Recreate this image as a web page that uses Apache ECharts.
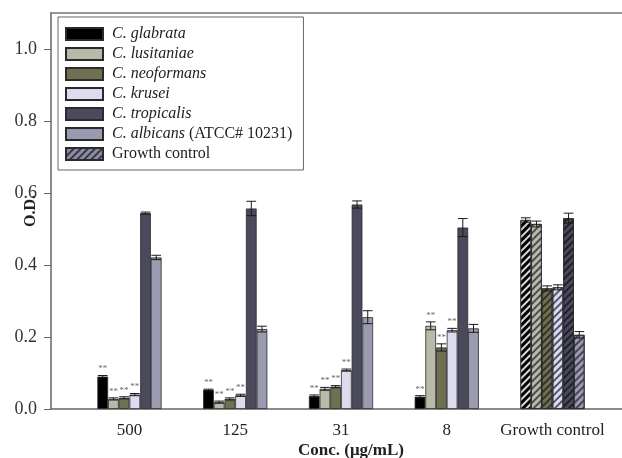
<!DOCTYPE html>
<html>
<head>
<meta charset="utf-8">
<script src="https://cdn.jsdelivr.net/npm/echarts@6/dist/echarts.min.js"></script>
<style>
  html, body { margin: 0; padding: 0; background: #fff; }
  #chart { width: 622px; height: 458px; }
</style>
</head>
<body>
<div id="chart"></div>
<script>
// Concentration groups along the x axis
const categories = ['500', '125', '31', '8', 'Growth control'];

// Strains (series)
const speciesNames = ['C. glabrata', 'C. lusitaniae', 'C. neoformans', 'C. krusei', 'C. tropicalis', 'C. albicans'];
const speciesSuffix = ['', '', '', '', '', ' (ATCC# 10231)'];

// Mean O.D. per strain, one value per concentration group
const glabrata   = [0.090, 0.053, 0.036, 0.034, 0.525];
const lusitaniae = [0.028, 0.019, 0.056, 0.231, 0.514];
const neoformans = [0.031, 0.028, 0.062, 0.171, 0.335];
const krusei     = [0.040, 0.038, 0.108, 0.219, 0.338];
const tropicalis = [0.544, 0.557, 0.568, 0.504, 0.530];
const albicans   = [0.421, 0.222, 0.255, 0.224, 0.206];

// Standard deviations
const glabrataErr   = [0.003, 0.002, 0.003, 0.003, 0.006];
const lusitaniaeErr = [0.003, 0.003, 0.004, 0.011, 0.008];
const neoformansErr = [0.003, 0.003, 0.003, 0.010, 0.007];
const kruseiErr     = [0.003, 0.003, 0.003, 0.005, 0.007];
const tropicalisErr = [0.003, 0.020, 0.010, 0.025, 0.014];
const albicansErr   = [0.006, 0.008, 0.018, 0.011, 0.009];

// Significance markers (1 = "**")
const glabrataSig   = [1, 1, 1, 1, 0];
const lusitaniaeSig = [1, 1, 1, 1, 0];
const neoformansSig = [1, 1, 1, 1, 0];
const kruseiSig     = [1, 1, 1, 1, 0];
const tropicalisSig = [0, 0, 0, 0, 0];
const albicansSig   = [0, 0, 0, 0, 0];

// Y axis ticks
const yTicks = [0, 0.2, 0.4, 0.6, 0.8, 1.0];

const means = [glabrata, lusitaniae, neoformans, krusei, tropicalis, albicans];
const errs  = [glabrataErr, lusitaniaeErr, neoformansErr, kruseiErr, tropicalisErr, albicansErr];
const sigs  = [glabrataSig, lusitaniaeSig, neoformansSig, kruseiSig, tropicalisSig, albicansSig];

const colors = ['#000000', '#b9b9aa', '#6f7052', '#dcdcf0', '#4a4a5c', '#9a9ab0'];
const hatchColors = ['rgba(255,255,255,0.85)', 'rgba(40,40,50,0.75)', 'rgba(30,30,30,0.75)',
                     'rgba(40,40,60,0.75)', 'rgba(20,20,30,0.8)', 'rgba(40,40,60,0.75)'];

const SERIF = 'Liberation Serif';
const BAR_W = 10.7;
const X_MIN = -0.742, X_MAX = 4.657;

function hatch(color) {
  return {
    symbol: 'rect',
    symbolSize: 1,
    color: color,
    dashArrayX: [1, 0],
    dashArrayY: [2, 3],
    rotation: -Math.PI / 4
  };
}

const series = [];
speciesNames.forEach(function (name, s) {
  series.push({
    name: name,
    type: 'bar',
    xAxisIndex: 0,
    stack: 'g' + s,
    barWidth: BAR_W,
    barGap: '0%',
    itemStyle: { color: colors[s], borderColor: '#2a2a2a', borderWidth: 0.8 },
    emphasis: { disabled: true },
    data: means[s].map(function (v, i) {
      const item = { value: [i, v] };
      if (categories[i] === 'Growth control') {
        item.itemStyle = { decal: hatch(hatchColors[s]) };
      }
      return item;
    }),
    z: 2
  });
});

// Legend-only entry for the hatched growth-control style
series.push({
  name: 'Growth control',
  type: 'bar',
  xAxisIndex: 0,
  stack: 'g5',
  barWidth: BAR_W,
  barGap: '0%',
  itemStyle: { color: '#8c8ca2', borderColor: '#2a2a2a', borderWidth: 0.8, decal: hatch('rgba(40,40,55,0.85)') },
  data: []
});

// Error bars and significance stars
const errData = [];
means.forEach(function (arr, s) {
  arr.forEach(function (v, i) {
    errData.push([i, v, errs[s][i], s, sigs[s][i]]);
  });
});

series.push({
  type: 'custom',
  xAxisIndex: 0,
  z: 5,
  silent: true,
  encode: { x: 0, y: 1 },
  data: errData,
  renderItem: function (params, api) {
    const x = api.value(0), v = api.value(1), e = api.value(2), s = api.value(3), sig = api.value(4);
    const cx = api.coord([x, v])[0] + (s - 2.5) * BAR_W;
    const yHi = api.coord([x, v + e])[1];
    const yLo = api.coord([x, v - e])[1];
    const half = BAR_W / 2 - 0.5;
    const lineStyle = { stroke: '#1a1a1a', lineWidth: 1 };
    const children = [
      { type: 'line', shape: { x1: cx, y1: yHi, x2: cx, y2: yLo }, style: lineStyle },
      { type: 'line', shape: { x1: cx - half, y1: yHi, x2: cx + half, y2: yHi }, style: lineStyle },
      { type: 'line', shape: { x1: cx - half, y1: yLo, x2: cx + half, y2: yLo }, style: lineStyle }
    ];
    if (sig) {
      children.push({
        type: 'text',
        style: {
          text: '**', x: cx, y: yHi - 2,
          align: 'center', verticalAlign: 'bottom',
          font: '9px ' + SERIF, fill: '#666'
        }
      });
    }
    return { type: 'group', children: children };
  }
});

const chart = echarts.init(document.getElementById('chart'), null, { renderer: 'canvas' });
chart.setOption({
  animation: false,
  backgroundColor: '#ffffff',
  grid: { left: 51, right: 0, top: 13, bottom: 49, containLabel: false, outerBoundsMode: 'none' },
  legend: {
    orient: 'vertical',
    left: 58,
    top: 17,
    selectedMode: false,
    data: speciesNames.concat(['Growth control']),
    itemWidth: 37,
    itemHeight: 12,
    itemGap: 4,
    padding: [9, 11, 8, 7],
    borderColor: '#666',
    borderWidth: 1,
    icon: 'rect',
    formatter: function (name) {
      const s = speciesNames.indexOf(name);
      if (s < 0) return '{n|' + name + '}';
      return '{i|' + name + '}' + (speciesSuffix[s] ? '{n|' + speciesSuffix[s] + '}' : '');
    },
    textStyle: {
      fontFamily: SERIF, fontSize: 16, color: '#222', lineHeight: 16, padding: [0, 0, 0, 4],
      rich: {
        i: { fontFamily: SERIF, fontSize: 16, fontStyle: 'italic', color: '#222' },
        n: { fontFamily: SERIF, fontSize: 16, color: '#222' }
      }
    }
  },
  xAxis: [{
    type: 'value',
    min: X_MIN,
    max: X_MAX,
    name: 'Conc. (\u03bcg/mL)',
    nameLocation: 'middle',
    nameGap: 33,
    nameMoveOverlap: false,
    nameTextStyle: { fontFamily: SERIF, fontSize: 17, fontWeight: 'bold', color: '#222', padding: [0, 0, 0, 29] },
    axisLine: { show: true, onZero: false, lineStyle: { color: '#666', width: 1.5 } },
    axisTick: { show: false },
    splitLine: { show: false },
    axisLabel: {
      customValues: [0, 1, 2, 3, 4],
      formatter: function (v) { return categories[Math.round(v)]; },
      fontFamily: SERIF, fontSize: 17, color: '#222', margin: 13
    }
  }, {
    type: 'value',
    position: 'top',
    min: X_MIN,
    max: X_MAX,
    axisLine: { show: true, onZero: false, lineStyle: { color: '#777', width: 1.5 } },
    axisTick: { show: false },
    axisLabel: { show: false },
    splitLine: { show: false }
  }],
  yAxis: {
    type: 'value',
    min: 0,
    max: 1.1,
    name: 'O.D.',
    nameLocation: 'middle',
    nameGap: 12,
    nameMoveOverlap: false,
    nameRotate: 90,
    nameTextStyle: { fontFamily: SERIF, fontSize: 16, fontWeight: 'bold', color: '#222', padding: [0, 0, 0, 0] },
    axisLine: { show: true, onZero: false, lineStyle: { color: '#666', width: 1.5 } },
    axisTick: { show: true, length: 7, customValues: yTicks, lineStyle: { color: '#666', width: 1 } },
    splitLine: { show: false },
    axisLabel: {
      customValues: yTicks,
      formatter: function (v) { return v.toFixed(1); },
      fontFamily: SERIF, fontSize: 18, color: '#333', margin: 14
    }
  },
  series: series
});
</script>
</body>
</html>
